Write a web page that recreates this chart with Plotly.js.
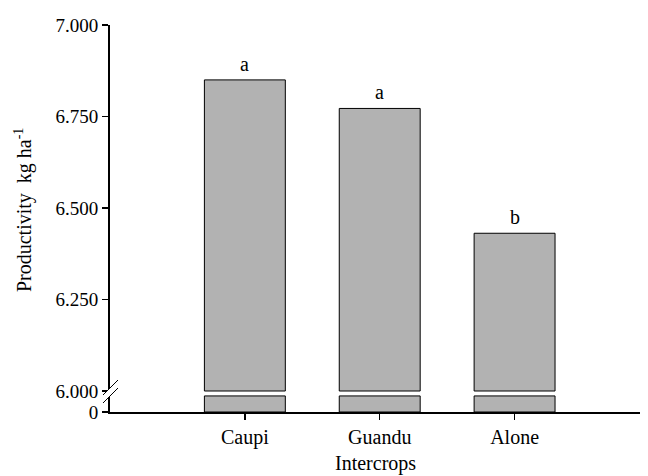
<!DOCTYPE html>
<html>
<head>
<meta charset="utf-8">
<script src="https://cdn.plot.ly/plotly-3.0.1.min.js"></script>
<style>html,body{margin:0;padding:0;background:#fff;}#chart{width:648px;height:476px;}</style>
</head>
<body>
<div id="chart"></div>
<script>
// ---- data ----
var categories = ['Caupi', 'Guandu', 'Alone'];
var productivity = [6.850, 6.772, 6.431];   // thousand kg ha-1 (shown as 6.850 etc.)
var letters = ['a', 'a', 'b'];
var upperTicks = [6.0, 6.25, 6.5, 6.75, 7.0];
var lowerTicks = [0];
var breakAt = 6.0;

// ---- layout helpers ----
var W = 648, H = 476;
var M = {l: 110, r: 8, t: 25, b: 64};
var pw = W - M.l - M.r, ph = H - M.t - M.b;
function px(x) { return (x - M.l) / pw; }
function py(y) { return (H - M.b - y) / ph; }

var FONT = 'Liberation Serif, Times New Roman, serif';
var gray = '#b2b2b2';

var lower = {
  type: 'bar', x: categories,
  y: productivity.map(function (v) { return Math.min(v, breakAt); }),
  xaxis: 'x', yaxis: 'y', width: 0.6,
  marker: {color: gray, line: {color: '#000', width: 1}},
  hoverinfo: 'skip', showlegend: false
};
var upper = {
  type: 'bar', x: categories,
  y: productivity.map(function (v) { return v - breakAt; }),
  base: breakAt,
  xaxis: 'x', yaxis: 'y2', width: 0.6,
  marker: {color: gray, line: {color: '#000', width: 1}},
  hoverinfo: 'skip', showlegend: false
};

var annotations = categories.map(function (c, i) {
  return {x: c, y: productivity[i], xref: 'x', yref: 'y2', text: letters[i],
    showarrow: false, yanchor: 'bottom', yshift: 3,
    font: {family: FONT, size: 20, color: '#000'}};
});
// x-axis title
annotations.push({x: 0.5, y: py(463), xref: 'paper', yref: 'paper', text: 'Intercrops',
  showarrow: false, xanchor: 'center', yanchor: 'middle', borderpad: 0,
  font: {family: FONT, size: 20, color: '#000'}});

// axis-break decoration
var s1 = [[103, 395], [118, 380]], s2 = [[103, 403], [118, 388]];
function P(p) { return px(p[0]).toFixed(5) + ',' + py(p[1]).toFixed(5); }
var shapes = [
  {type: 'path', xref: 'paper', yref: 'paper', layer: 'above',
   path: 'M' + P(s1[0]) + ' L' + P(s1[1]) + ' L' + P(s2[1]) + ' L' + P(s2[0]) + ' Z',
   fillcolor: '#fff', line: {width: 0}},
  {type: 'line', xref: 'paper', yref: 'paper', layer: 'above',
   x0: px(s1[0][0]), y0: py(s1[0][1]), x1: px(s1[1][0]), y1: py(s1[1][1]),
   line: {color: '#000', width: 1}},
  {type: 'line', xref: 'paper', yref: 'paper', layer: 'above',
   x0: px(s2[0][0]), y0: py(s2[0][1]), x1: px(s2[1][0]), y1: py(s2[1][1]),
   line: {color: '#000', width: 1}}
];

var layout = {
  width: W, height: H,
  margin: M,
  paper_bgcolor: '#fff', plot_bgcolor: '#fff',
  font: {family: FONT, color: '#000', size: 19},
  bargap: 0.4,
  xaxis: {
    anchor: 'y', range: [-1, 2.93], type: 'category',
    showline: true, linecolor: '#000', linewidth: 2,
    ticks: 'outside', ticklen: 6, tickwidth: 1.5, tickcolor: '#000',
    showgrid: false, zeroline: false,
    tickfont: {family: FONT, size: 20}
  },
  yaxis: {
    domain: [0, 0.045], anchor: 'x', range: [0, 6.5],
    showline: true, linecolor: '#000', linewidth: 2,
    ticks: 'outside', ticklen: 6, tickwidth: 1.5, tickcolor: '#000',
    tickmode: 'array', tickvals: lowerTicks, ticktext: lowerTicks.map(String),
    showgrid: false, zeroline: false,
    tickfont: {family: FONT, size: 19}
  },
  yaxis2: {
    domain: [0.0448, 1], anchor: 'x', range: [5.99, 7.0],
    showline: true, linecolor: '#000', linewidth: 2,
    ticks: 'outside', ticklen: 6, tickwidth: 1.5, tickcolor: '#000',
    tickmode: 'array', tickvals: upperTicks,
    ticktext: upperTicks.map(function (v) { return v.toFixed(3); }),
    showgrid: false, zeroline: false,
    tickfont: {family: FONT, size: 19},
    title: {text: 'Productivity&nbsp; kg ha<sup>-1</sup>', font: {family: FONT, size: 20}, standoff: 18}
  },
  annotations: annotations,
  shapes: shapes
};

Plotly.newPlot('chart', [lower, upper], layout, {displayModeBar: false, staticPlot: true});
</script>
</body>
</html>
